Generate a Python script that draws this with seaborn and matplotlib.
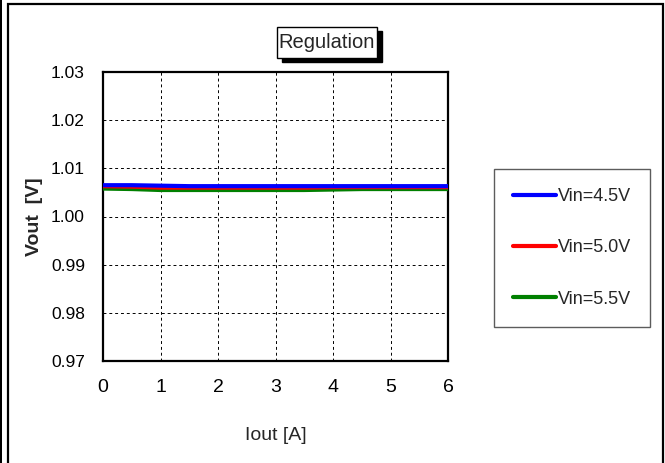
import matplotlib
matplotlib.use("Agg")
import matplotlib.pyplot as plt
import seaborn as sns
import pandas as pd
from matplotlib.patches import Rectangle

sns.set_theme(style="white")
plt.rcParams['font.family'] = ['Liberation Sans Narrow', 'Liberation Sans', 'DejaVu Sans']

iout = [0, 0.5, 1, 1.5, 2, 2.5, 3, 3.5, 4, 4.5, 5, 5.5, 6]
vout_45 = [1.0065, 1.0065, 1.0064, 1.0063, 1.0063, 1.0063, 1.0063, 1.0063, 1.0063, 1.0063, 1.0063, 1.0063, 1.0063]
vout_50 = [1.0063, 1.0062, 1.0060, 1.0060, 1.0060, 1.0060, 1.0060, 1.0060, 1.0061, 1.0061, 1.0061, 1.0061, 1.0061]
vout_55 = [1.0058, 1.0057, 1.0055, 1.0055, 1.0055, 1.0055, 1.0055, 1.0055, 1.0056, 1.0057, 1.0057, 1.0057, 1.0057]
series_names = ["Vin=4.5V", "Vin=5.0V", "Vin=5.5V"]
colors = ["#0000ff", "#ff0000", "#008000"]
yticks = [0.97, 0.98, 0.99, 1.00, 1.01, 1.02, 1.03]
xticks = [0, 1, 2, 3, 4, 5, 6]

df = pd.concat([
    pd.DataFrame({"Iout": iout, "Vout": v, "Series": n})
    for v, n in zip([vout_45, vout_50, vout_55], series_names)
])

fig = plt.figure(figsize=(6.65, 4.63), dpi=100)
ax = fig.add_axes([103/665, 1 - 361/463, (448-103)/665, (361-72)/463])

zorders = {"Vin=4.5V": 5, "Vin=5.0V": 4, "Vin=5.5V": 3}
for name, c in zip(series_names, colors):
    sub = df[df["Series"] == name]
    sns.lineplot(data=sub, x="Iout", y="Vout", color=c, lw=3, ax=ax,
                 zorder=zorders[name], label=name, legend=False)

ax.set_xlim(0, 6)
ax.set_ylim(0.97, 1.03)
ax.set_xticks(xticks)
ax.set_yticks(yticks)
ax.set_xticklabels([str(t) for t in xticks])
ax.set_yticklabels([f"{t:.2f}" for t in yticks])
ax.grid(True, color="black", linestyle=(0, (3, 3)), linewidth=0.7)
for s in ax.spines.values():
    s.set_color("black")
    s.set_linewidth(1.6)
ax.tick_params(axis="both", direction="in", length=0, colors="black")
ax.tick_params(axis="x", labelsize=14, pad=13)
ax.tick_params(axis="y", labelsize=12.5, pad=13)
ax.set_xlabel("Iout [A]", fontsize=14, labelpad=22)
ax.set_ylabel("Vout  [V]", fontsize=14, fontweight="bold", labelpad=6)

lines = ax.get_lines()[:3]
leg = fig.legend(lines, series_names, loc="upper left",
                 bbox_to_anchor=(494/665, 1 - 169/463), bbox_transform=fig.transFigure,
                 frameon=True, fancybox=False, fontsize=13, handlelength=2.4,
                 handletextpad=0.1, labelspacing=1.9, borderpad=1.05, borderaxespad=0)
leg.get_frame().set_edgecolor("#333333")
leg.get_frame().set_linewidth(1.0)

# title box with shadow
fig.patches.append(Rectangle((282/665, 1 - 62/463), 100/665, 31/463, transform=fig.transFigure,
                             facecolor="black", edgecolor="black", zorder=1))
fig.patches.append(Rectangle((277/665, 1 - 58/463), 100/665, 31/463, transform=fig.transFigure,
                             facecolor="white", edgecolor="black", linewidth=1.0, zorder=2))
fig.text(327/665, 1 - 42.5/463, "Regulation", ha="center", va="center", fontsize=14.5, zorder=3)

# outer border
fig.patches.append(Rectangle((8/665, -0.05), (663-8)/665, 1.05 - 4/463, transform=fig.transFigure,
                             facecolor="none", edgecolor="black", linewidth=1.6, zorder=0))
fig.patches.append(Rectangle((0, 0), 2/665, 1, transform=fig.transFigure,
                             facecolor="black", edgecolor="none", zorder=0))

fig.savefig("out.png", dpi=100)
